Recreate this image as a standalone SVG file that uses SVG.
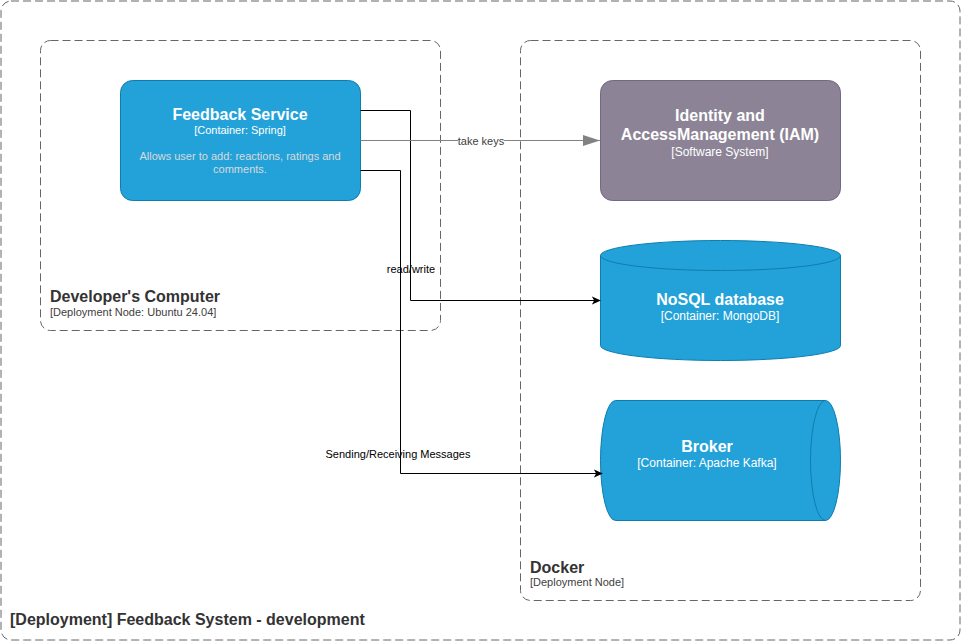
<svg xmlns="http://www.w3.org/2000/svg" width="962" height="641" viewBox="0 0 962 641">
  <defs>
    <style>
      .boundary { fill: none; stroke: #666666; stroke-width: 1; stroke-dasharray: 8 4; }
      .blue { fill: #23A2D9; stroke: #0E7DAD; stroke-width: 1; }
      .grey { fill: #8C8496; stroke: #736782; stroke-width: 1; }
      .t { font-family: "Liberation Sans", Arial, sans-serif; }
      .ntitle { font-size: 16px; font-weight: bold; fill: #ffffff; text-anchor: middle; }
      .nsub { font-size: 11px; fill: #ffffff; text-anchor: middle; }
      .nsub12 { font-size: 12px; fill: #ffffff; text-anchor: middle; }
      .ndesc { font-size: 11px; fill: #d9d9d9; text-anchor: middle; }
      .btitle { font-size: 16px; font-weight: bold; fill: #333333; }
      .bsub { font-size: 11px; fill: #404040; }
      .elabel { font-size: 11px; fill: #000000; text-anchor: middle; }
      .edge { fill: none; stroke: #000000; stroke-width: 1; }
      .edgegrey { fill: none; stroke: #828282; stroke-width: 1; }
    </style>
    <marker id="arrowBlack" viewBox="0 0 10 10" refX="9" refY="5" markerWidth="9" markerHeight="9" markerUnits="userSpaceOnUse" orient="auto">
      <path d="M0,0.5 L10,5 L0,9.5 L2.5,5 Z" fill="#000000"/>
    </marker>
    <marker id="arrowGrey" viewBox="0 0 17 11" refX="17" refY="5.5" markerWidth="17" markerHeight="11" markerUnits="userSpaceOnUse" orient="auto">
      <path d="M0,0 L17,5.5 L0,11 Z" fill="#828282"/>
    </marker>
  </defs>

  <rect width="962" height="641" fill="#ffffff"/>

  <g id="system-boundary">
    <rect class="boundary" x="1" y="1" width="959" height="639" rx="10" ry="10"/>
    <text class="t" x="10" y="625" style="font-size:16px;font-weight:bold;fill:#333333">[Deployment] Feedback System - development</text>
  </g>

  <g id="developers-computer">
    <rect class="boundary" x="40.5" y="40.5" width="400" height="290" rx="10" ry="10"/>
    <text class="t btitle" x="50" y="302">Developer's Computer</text>
    <text class="t bsub" x="50" y="316">[Deployment Node: Ubuntu 24.04]</text>
  </g>

  <g id="docker">
    <rect class="boundary" x="520.5" y="40.5" width="400" height="560" rx="10" ry="10"/>
    <text class="t btitle" x="530" y="573">Docker</text>
    <text class="t bsub" x="530" y="586">[Deployment Node]</text>
  </g>

  <g id="feedback-service">
    <rect class="blue" x="120.5" y="80.5" width="240" height="120" rx="12" ry="12"/>
    <text class="t ntitle" x="240" y="120">Feedback Service</text>
    <text class="t nsub" x="240" y="134">[Container: Spring]</text>
    <text class="t ndesc" x="240" y="160">Allows user to add: reactions, ratings and</text>
    <text class="t ndesc" x="240" y="173">comments.</text>
  </g>

  <g id="iam">
    <rect class="grey" x="600.5" y="80.5" width="240" height="120" rx="12" ry="12"/>
    <text class="t ntitle" x="720" y="121">Identity and</text>
    <text class="t ntitle" x="720" y="140">AccessManagement (IAM)</text>
    <text class="t nsub12" x="720" y="156">[Software System]</text>
  </g>

  <g id="nosql-database">
    <path class="blue" d="M600.5,255.5 A120,15 0 0 1 840.5,255.5 L840.5,345.5 A120,15 0 0 1 600.5,345.5 Z"/>
    <path class="blue" d="M600.5,255.5 A120,15 0 0 0 840.5,255.5" style="fill:none"/>
    <text class="t ntitle" x="720" y="305">NoSQL database</text>
    <text class="t nsub12" x="720" y="320">[Container: MongoDB]</text>
  </g>

  <g id="broker">
    <path class="blue" d="M615.5,400.5 L825.5,400.5 A15,60 0 0 1 825.5,520.5 L615.5,520.5 A15,60 0 0 1 615.5,400.5 Z"/>
    <path class="blue" d="M825.5,400.5 A15,60 0 0 0 825.5,520.5" style="fill:none"/>
    <text class="t ntitle" x="707" y="452">Broker</text>
    <text class="t nsub12" x="707" y="467">[Container: Apache Kafka]</text>
  </g>

  <g id="connectors">
    <g id="edge-read-write">
      <path class="edge" d="M360.5,110.5 H410.5 V300.5 H600" marker-end="url(#arrowBlack)"/>
      <text class="t elabel" x="411" y="273">read/write</text>
    </g>
    <g id="edge-take-keys">
      <path class="edgegrey" d="M360.5,140.5 H600" marker-end="url(#arrowGrey)"/>
      <rect x="458" y="134" width="46" height="13" fill="#ffffff"/>
      <text class="t" x="481" y="145" style="font-size:11px;fill:#404040;text-anchor:middle">take keys</text>
    </g>
    <g id="edge-sending-receiving">
      <path class="edge" d="M360.5,170.5 H400.5 V473.5 H602" marker-end="url(#arrowBlack)"/>
      <text class="t elabel" x="398" y="458">Sending/Receiving Messages</text>
    </g>
  </g>
</svg>
